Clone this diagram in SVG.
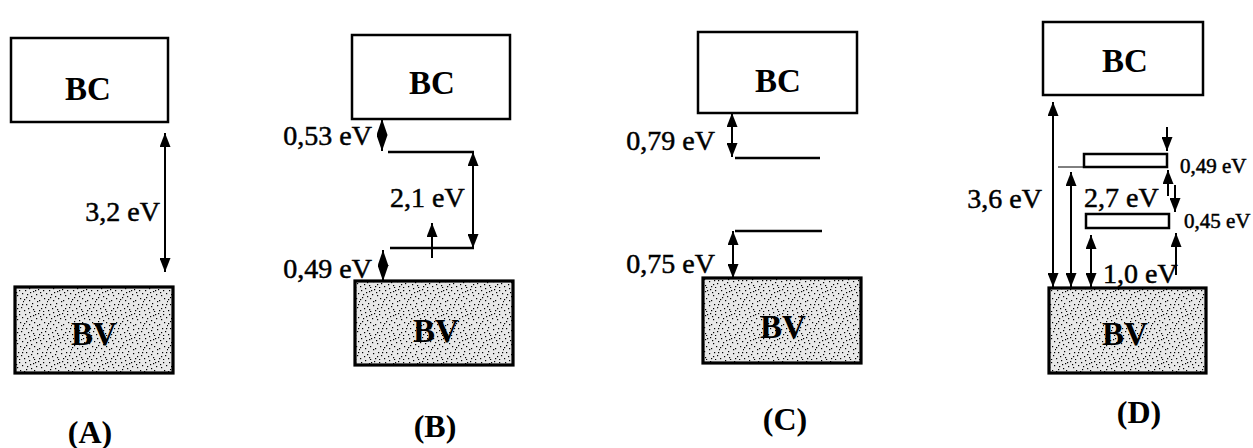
<svg xmlns="http://www.w3.org/2000/svg" width="1253" height="448" viewBox="0 0 1253 448">
<style>
.box{fill:#ffffff;stroke:#000;stroke-width:2.5}
.bv{fill:url(#stip);stroke:#000;stroke-width:3.2}
.trap{fill:#ffffff;stroke:#000;stroke-width:2.5}
.band{font-family:"Liberation Serif","Times New Roman",serif;font-weight:bold;font-size:33px;text-anchor:middle;fill:#000}
.lab{font-family:"Liberation Serif","Times New Roman",serif;font-size:28px;fill:#000;stroke:#000;stroke-width:0.5}
.sm{font-size:21px}
.cap{font-family:"Liberation Serif","Times New Roman",serif;font-weight:bold;font-size:32px;text-anchor:middle;fill:#000}
.end{text-anchor:end}
.lvl{stroke:#000;stroke-width:2.5;fill:none}
.arr{stroke:#000;stroke-width:2;fill:none;marker-end:url(#ah)}
.darr{stroke:#000;stroke-width:2;fill:none;marker-start:url(#ah);marker-end:url(#ah)}
.dia{stroke:#000;stroke-width:2;fill:none;marker-start:url(#ahd);marker-end:url(#ahd)}
</style>
<defs>
<marker id="ah" viewBox="0 0 14 11" refX="14" refY="5.5" markerUnits="userSpaceOnUse" markerWidth="14" markerHeight="11" orient="auto-start-reverse">
<path d="M0,0 L14,5.5 L0,11 z" fill="#000"/>
</marker>
<marker id="ahd" viewBox="0 0 16 11" refX="16" refY="5.5" markerUnits="userSpaceOnUse" markerWidth="16" markerHeight="11" orient="auto-start-reverse">
<path d="M0,0 L16,5.5 L0,11 z" fill="#000"/>
</marker>
<pattern id="stip" width="24" height="24" patternUnits="userSpaceOnUse">
<rect width="24" height="24" fill="#e8e8e8"/>
<g fill="#000">
<rect x="1" y="2" width="1.2" height="1.2"/><rect x="5" y="0" width="1.2" height="1.2"/><rect x="9" y="3" width="1.2" height="1.2"/><rect x="14" y="1" width="1.2" height="1.2"/><rect x="19" y="2" width="1.2" height="1.2"/><rect x="22" y="5" width="1.2" height="1.2"/><rect x="3" y="6" width="1.2" height="1.2"/><rect x="7" y="8" width="1.2" height="1.2"/><rect x="12" y="6" width="1.2" height="1.2"/><rect x="17" y="7" width="1.2" height="1.2"/><rect x="20" y="10" width="1.2" height="1.2"/><rect x="0" y="11" width="1.2" height="1.2"/><rect x="5" y="12" width="1.2" height="1.2"/><rect x="10" y="10" width="1.2" height="1.2"/><rect x="15" y="12" width="1.2" height="1.2"/><rect x="23" y="13" width="1" height="1.2"/><rect x="2" y="16" width="1.2" height="1.2"/><rect x="8" y="15" width="1.2" height="1.2"/><rect x="13" y="17" width="1.2" height="1.2"/><rect x="18" y="16" width="1.2" height="1.2"/><rect x="21" y="19" width="1.2" height="1.2"/><rect x="4" y="20" width="1.2" height="1.2"/><rect x="9" y="21" width="1.2" height="1.2"/><rect x="15" y="22" width="1.2" height="1.2"/><rect x="19" y="23" width="1.2" height="1"/><rect x="0" y="22" width="1.2" height="1.2"/><rect x="11" y="2" width="1.2" height="1.2"/><rect x="16" y="4" width="1.2" height="1.2"/><rect x="6" y="4" width="1.2" height="1.2"/><rect x="2" y="9" width="1.2" height="1.2"/><rect x="13" y="13" width="1.2" height="1.2"/><rect x="7" y="18" width="1.2" height="1.2"/><rect x="17" y="20" width="1.2" height="1.2"/><rect x="22" y="16" width="1.2" height="1.2"/><rect x="10" y="23" width="1.2" height="1"/>
</g>
</pattern>
</defs>
<rect width="1253" height="448" fill="#ffffff"/>

<!-- Panel A -->
<g id="A-BC"><rect class="box" x="11" y="38" width="157" height="84"/><text class="band" x="88" y="100">BC</text></g>
<g id="A-BV"><rect class="bv" x="15" y="287" width="158" height="86"/><text class="band" x="94" y="345">BV</text></g>
<g id="A-label"><text class="lab end" x="160" y="221">3,2 eV</text></g>
<g id="A-caption"><text class="cap" x="90" y="443">(A)</text></g>

<!-- Panel B -->
<g id="B-BC"><rect class="box" x="352" y="35" width="158" height="84"/><text class="band" x="432" y="94">BC</text></g>
<g id="B-BV"><rect class="bv" x="355" y="281" width="158" height="84"/><text class="band" x="436" y="342">BV</text></g>
<g id="B-levels"><line class="lvl" x1="388" y1="152" x2="474" y2="152"/><line class="lvl" x1="390" y1="248" x2="474" y2="248"/></g>
<g id="B-labels">
<text class="lab end" x="372" y="145">0,53 eV</text>
<text class="lab" x="390" y="207">2,1 eV</text>
<text class="lab end" x="372" y="278">0,49 eV</text>
</g>
<g id="B-caption"><text class="cap" x="435" y="437">(B)</text></g>

<!-- Panel C -->
<g id="C-BC"><rect class="box" x="698" y="32" width="159" height="81"/><text class="band" x="778" y="92">BC</text></g>
<g id="C-BV"><rect class="bv" x="703" y="278" width="158" height="85"/><text class="band" x="783" y="338">BV</text></g>
<g id="C-levels"><line class="lvl" x1="735" y1="158" x2="820" y2="158"/><line class="lvl" x1="735" y1="231" x2="822" y2="231"/></g>
<g id="C-labels">
<text class="lab end" x="715" y="150">0,79 eV</text>
<text class="lab end" x="715" y="273">0,75 eV</text>
</g>
<g id="C-caption"><text class="cap" x="785" y="430">(C)</text></g>

<!-- Panel D -->
<g id="D-BC"><rect class="box" x="1043" y="22" width="160" height="73"/><text class="band" x="1125" y="72">BC</text></g>
<g id="D-BV"><rect class="bv" x="1049" y="288" width="157" height="85"/><text class="band" x="1125" y="345">BV</text></g>
<g id="D-trap1"><rect class="trap" x="1084" y="154" width="83" height="13"/></g>
<g id="D-trap2"><rect class="trap" x="1086" y="214" width="83" height="14"/></g>
<g id="D-labels">
<text class="lab end" x="1042" y="208">3,6 eV</text>
<text class="lab" x="1084" y="207">2,7 eV</text>
<text class="lab sm" x="1180" y="173">0,49 eV</text>
<text class="lab sm" x="1184" y="228">0,45 eV</text>
<text class="lab" x="1103" y="283">1,0 eV</text>
</g>
<g id="D-caption"><text class="cap" x="1139" y="423">(D)</text></g>

<!-- Connectors -->
<g id="connectors">
<line class="darr" x1="165" y1="133" x2="165" y2="272"/>
<line class="dia" x1="382" y1="119" x2="382" y2="151"/>
<line class="darr" x1="473" y1="152" x2="473" y2="248"/>
<line class="arr" x1="432" y1="258" x2="432" y2="223"/>
<line class="dia" x1="383" y1="250" x2="383" y2="281"/>
<line class="darr" x1="732" y1="113" x2="732" y2="157"/>
<line class="darr" x1="733" y1="231" x2="733" y2="278"/>
<line class="darr" x1="1053" y1="102" x2="1053" y2="287"/>
<line class="darr" x1="1071" y1="172" x2="1071" y2="287"/>
<line x1="1058" y1="167" x2="1083" y2="167" stroke="#000" stroke-width="1"/>
<line class="darr" x1="1091" y1="235" x2="1091" y2="287"/>
<line class="arr" x1="1167" y1="127" x2="1167" y2="151"/>
<line class="arr" x1="1168" y1="196" x2="1168" y2="170"/>
<line class="arr" x1="1175" y1="185" x2="1175" y2="212"/>
<line class="arr" x1="1176" y1="275" x2="1176" y2="233"/>
</g>
</svg>
